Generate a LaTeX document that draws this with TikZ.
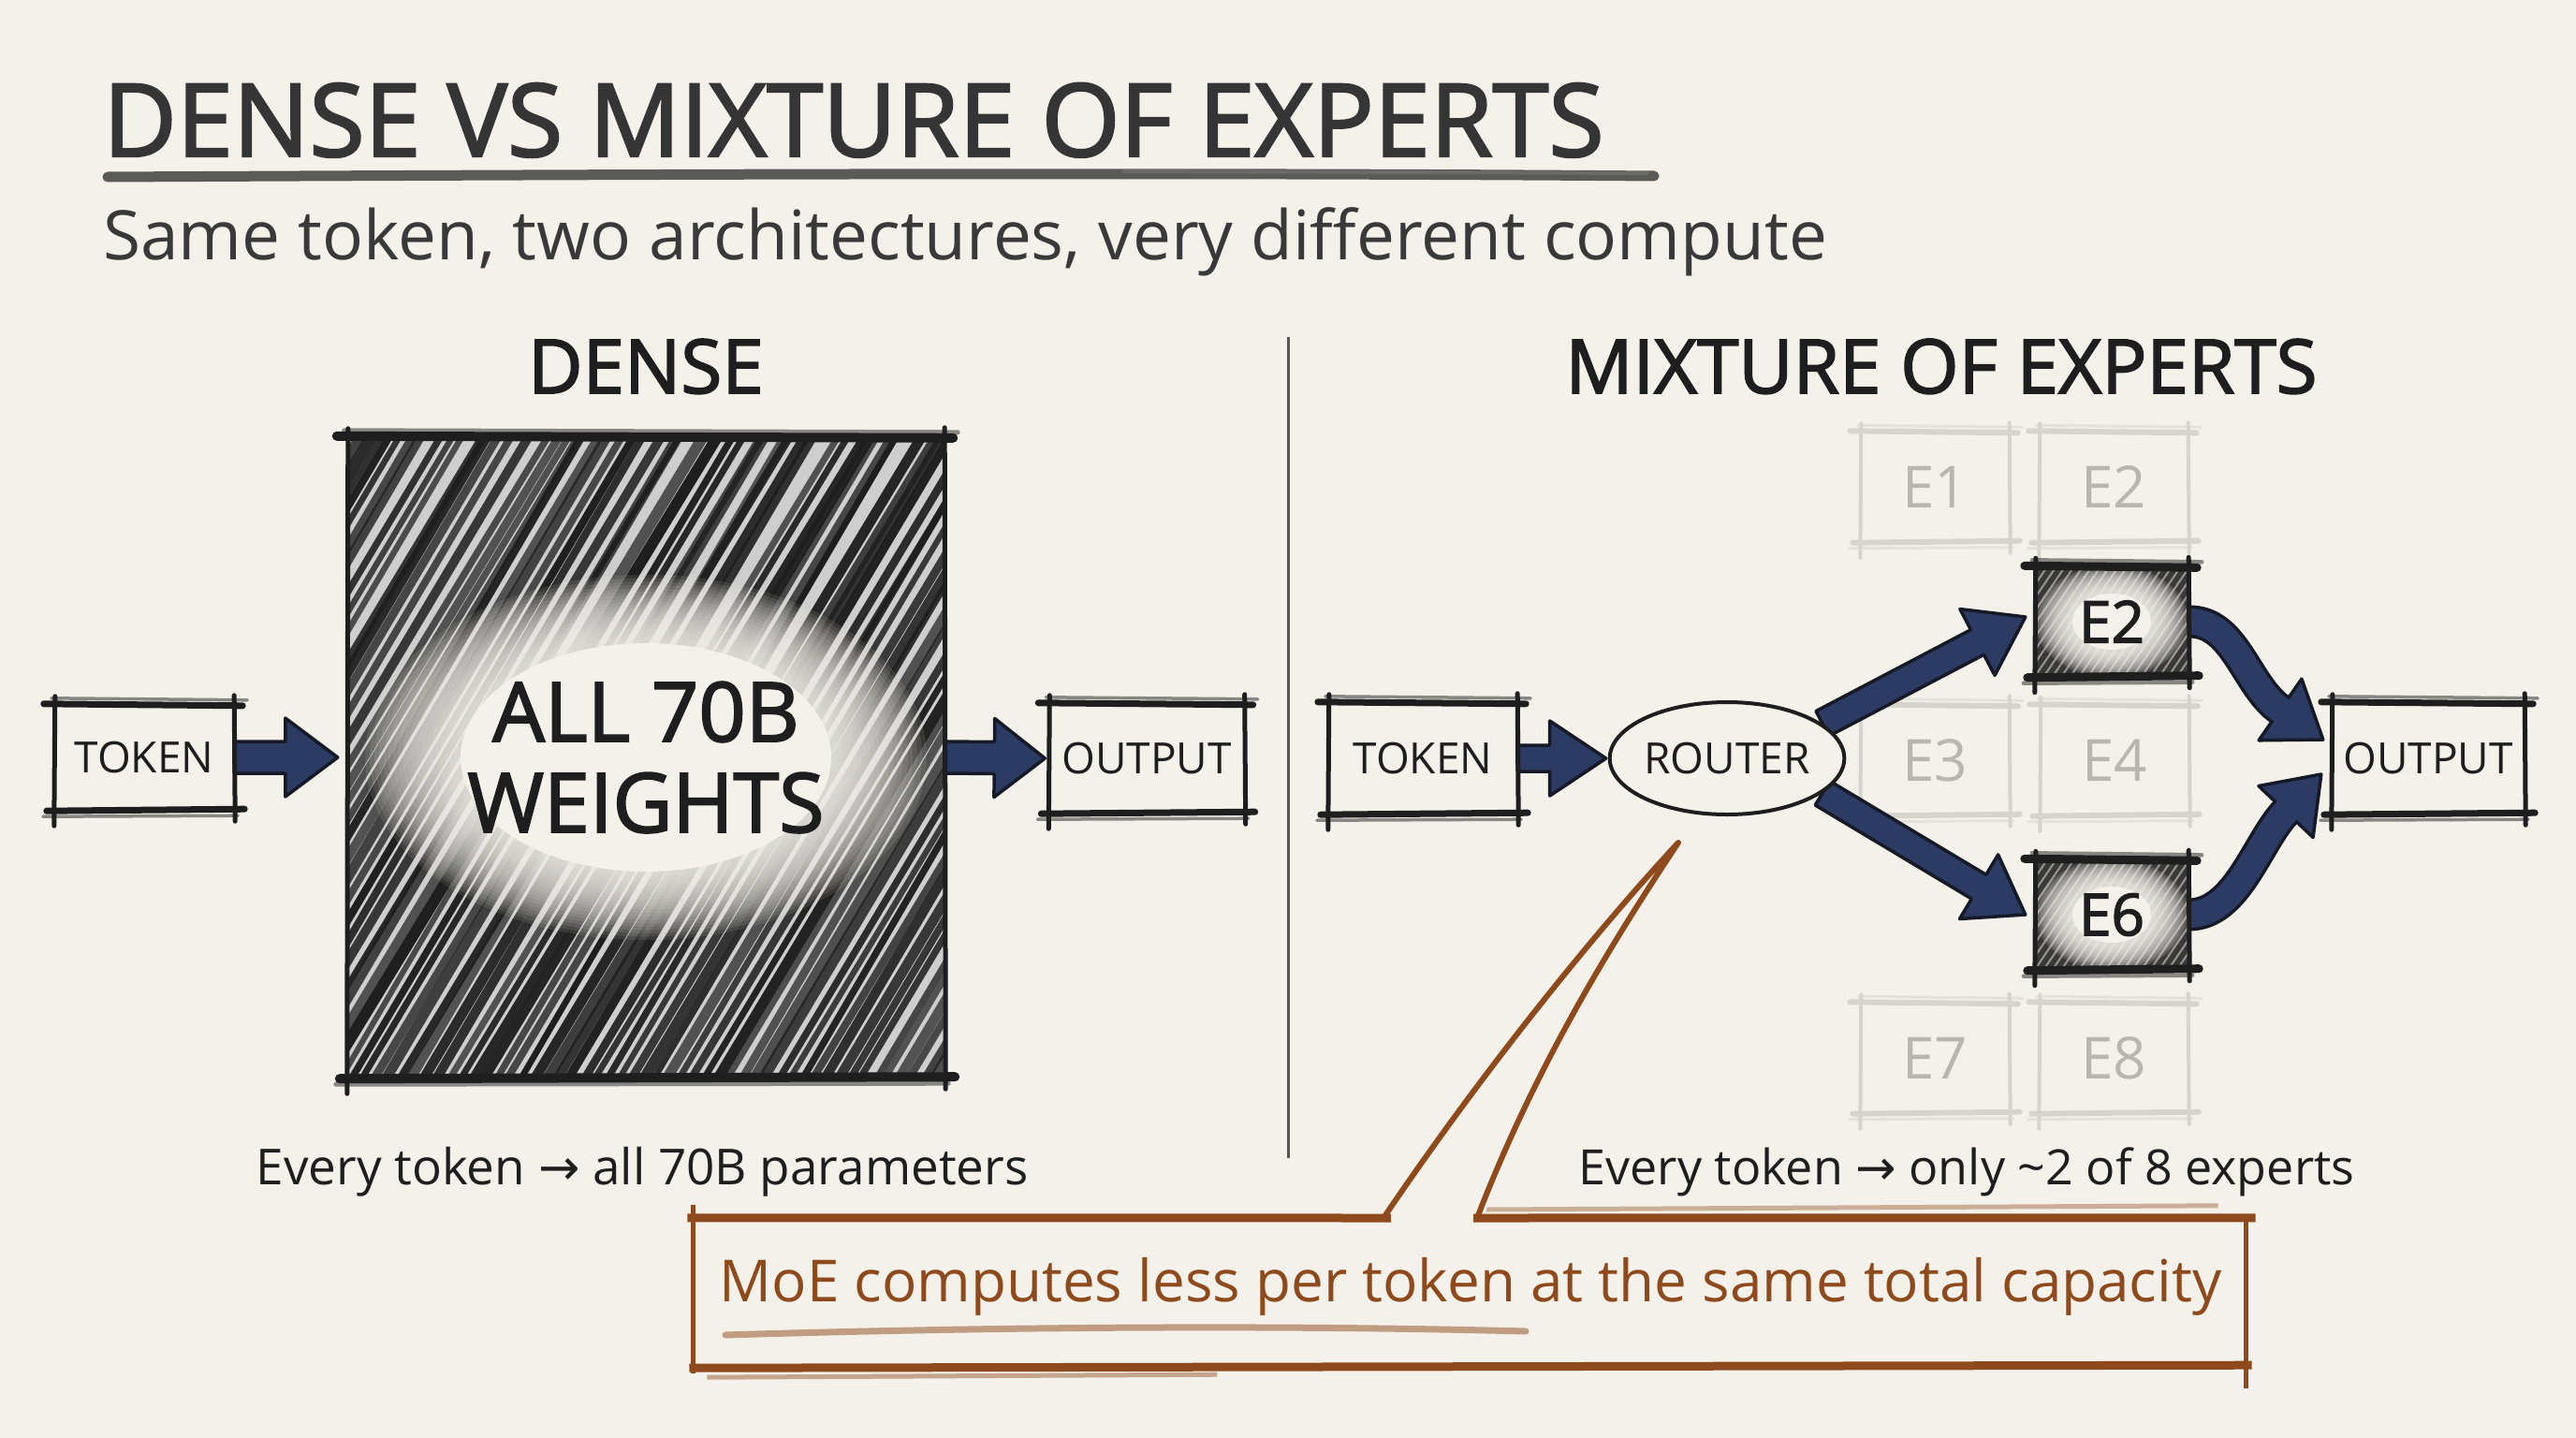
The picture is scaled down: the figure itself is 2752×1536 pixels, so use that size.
\documentclass[tikz,border=0pt]{standalone}
\usepackage{fontspec}
\setmainfont{Open Sans}
\newfontfamily\semib{Open Sans}[FakeBold=2.2]
\newfontfamily\symf{DejaVu Sans}
\usetikzlibrary{calc,shapes.geometric}
\pgfdeclarelayer{front}
\pgfsetlayers{main,front}
\definecolor{bg}{HTML}{F3F1EA}
\definecolor{ink}{HTML}{1E1E1E}
\definecolor{navy}{HTML}{2B3B64}
\definecolor{navyline}{HTML}{161A26}
\definecolor{ghost}{HTML}{D6D4CD}
\definecolor{ghosttxt}{HTML}{B8B6B0}
\definecolor{cbrown}{HTML}{8E4A1C}

% straight block arrow: start, tip, half shaft, half head, head length
\newcommand\blockarrow[5]{%
  \coordinate (bah) at ($(#2)!#5!(#1)$);
  \filldraw[fill=navy, draw=navyline, line width=3.5pt, line join=round]
    ($(#1)!#3!90:(#2)$) -- ($(bah)!#3!90:(#2)$) -- ($(bah)!#4!90:(#2)$) -- (#2)
    -- ($(bah)!#4!-90:(#2)$) -- ($(bah)!#3!-90:(#2)$) -- ($(#1)!#3!-90:(#2)$) -- cycle;}
% curved arrow: start, control 1, head base, tip
\newcommand\curvearrow[4]{%
  \draw[navyline, line width=35pt] (#1) .. controls (#2) and ($(#3)!-45pt!(#4)$) .. (#3);
  \filldraw[fill=navy, draw=navyline, line width=3.5pt, line join=round]
    ($(#3)!40pt!90:(#4)$) -- (#4) -- ($(#3)!40pt!-90:(#4)$) -- cycle;
  \draw[navy, line width=28pt] (#1) .. controls (#2) and ($(#3)!-45pt!(#4)$) .. (#3) -- ($(#3)!3pt!(#4)$);}
% sketchy frame: node, colour, horizontal width, vertical width
\newcommand\skbox[4]{%
  \draw[#2, line width=#3, line cap=round] ([xshift=-11pt,yshift=1pt]#1.north west) -- ([xshift=9pt,yshift=-1pt]#1.north east);
  \draw[#2, line width=#3*0.5, opacity=0.5, line cap=round] ([xshift=-3pt,yshift=7pt]#1.north west) -- ([xshift=14pt,yshift=5pt]#1.north east);
  \draw[#2, line width=#3, line cap=round] ([xshift=-8pt,yshift=-1pt]#1.south west) -- ([xshift=11pt,yshift=1pt]#1.south east);
  \draw[#2, line width=#3*0.5, opacity=0.5, line cap=round] ([xshift=-12pt,yshift=-7pt]#1.south west) -- ([xshift=4pt,yshift=-6pt]#1.south east);
  \draw[#2, line width=#4, line cap=round] ([xshift=1pt,yshift=9pt]#1.north west) -- ([yshift=-17pt]#1.south west);
  \draw[#2, line width=#4, line cap=round] ([yshift=10pt]#1.north east) -- ([xshift=1pt,yshift=-12pt]#1.south east);}
% dark hatched expert box
\newcommand\darkhatch[1]{%
  \begin{scope}
    \clip (#1.north west) rectangle (#1.south east);
    \fill[ink!88] (#1.north west) rectangle (#1.south east);
    \foreach \k in {-10,...,18} \draw[bg, line width=2pt, opacity=0.5] ($(#1.south west)+(\k*9.5,0)$) -- ++(85,-125);
    \foreach \r in {0,...,13}{\pgfmathsetmacro\rx{82-2.8*\r}\pgfmathsetmacro\ry{60-2*\r}%
      \fill[bg, opacity=0.15] (#1.center) ellipse [x radius=\rx pt, y radius=\ry pt];}
    \fill[bg] (#1.center) ellipse [x radius=42pt, y radius=30pt];
  \end{scope}}

\begin{document}
\begin{tikzpicture}[x=1pt,y=-1pt,
  lbl/.style={inner sep=0pt, font=\fontsize{46}{55}\selectfont, text=ink},
  glbl/.style={inner sep=0pt, font=\fontsize{62}{74}\selectfont, text=ghosttxt, minimum width=159, minimum height=117},
  albl/.style={inner sep=0pt, font=\fontsize{62}{74}\semib, text=ink, minimum width=164, minimum height=117}]
\useasboundingbox (0,0) rectangle (2752,1536);
\fill[bg] (0,0) rectangle (2752,1536);

% ---------- texts and nodes ----------
\begin{pgfonlayer}{front}
\node[anchor=base west, inner sep=0pt, text=ink!90] (title) at (110,167) {\fontsize{108}{128}\semib DENSE VS MIXTURE OF EXPERTS};
\node[anchor=base west, inner sep=0pt, text=ink!88] (sub) at (110,277) {\fontsize{73}{88}\selectfont Same token, two architectures, very different compute};
\node[anchor=base, inner sep=0pt, text=ink] (hdense) at (690,420) {\fontsize{80}{96}\semib DENSE};
\node[anchor=base, inner sep=0pt, text=ink] (hmoe) at (2074,420) {\fontsize{80}{96}\semib MIXTURE OF EXPERTS};

\node[lbl, minimum width=192, minimum height=112] (tokL) at (154,809) {TOKEN};
\node[inner sep=0pt, minimum width=638, minimum height=684, align=center, text=ink,
      font=\fontsize{88}{97}\semib] (dense) at (690,809) {ALL 70B\\WEIGHTS};
\node[lbl, minimum width=209, minimum height=116] (outL) at (1225,810) {OUTPUT};

\node[lbl, minimum width=202, minimum height=118] (tokR) at (1520,810) {TOKEN};
\node[lbl, ellipse, draw=ink, line width=4pt, fill=bg, minimum width=230, minimum height=120] (router) at (1845,810) {ROUTER};
\node[glbl] (e1) at (2067,520) {E1};
\node[glbl] (e2g) at (2258,520) {E2};
\node[glbl] (e3) at (2067,812) {E3};
\node[glbl] (e4) at (2259,812) {E4};
\node[glbl] (e7) at (2067,1130) {E7};
\node[glbl] (e8) at (2258,1130) {E8};
\node[albl] (e2) at (2256,664) {E2};
\node[albl] (e6) at (2256,977) {E6};
\node[lbl, minimum width=206, minimum height=118] (outR) at (2594,810) {OUTPUT};

\node[anchor=base, inner sep=0pt, text=ink] (capL) at (686,1265) {\fontsize{53}{64}\selectfont Every token {\symf →} all 70B parameters};
\node[anchor=base, inner sep=0pt, text=ink] (capR) at (2101,1265) {\fontsize{52}{63}\selectfont Every token {\symf →} only \textasciitilde2 of 8 experts};
\node[inner sep=0pt, minimum width=1659, minimum height=160] (callout) at (1570,1381) {};
\node[anchor=base, inner sep=0pt, text=cbrown] (ctext) at (1571,1390) {\fontsize{62}{75}\selectfont MoE computes less per token at the same total capacity};
\end{pgfonlayer}

% ---------- title underline and divider ----------
\draw[ink!85, line width=11pt, line cap=round, opacity=0.85] (title.base west) ++(5,22) .. controls (700,186) and (1300,184) .. (1767,188);
\draw[ink!60, line width=4pt, line cap=round, opacity=0.5] (1200,183) -- (1760,185);
\draw[ink!75, line width=3pt] (1376,360) -- (1376,1237);

% ---------- dense box hatching ----------
\begin{scope}
  \clip (dense.north west) rectangle (dense.south east);
  \fill[ink!22] (dense.north west) rectangle (dense.south east);
  \pgfmathsetseed{11}
  \foreach \k in {0,...,84}{%
    \pgfmathsetmacro\xs{-80+\k*13+5*rnd}
    \pgfmathsetmacro\lw{6+6*rnd}
    \pgfmathsetmacro\op{0.7+0.3*rnd}
    \pgfmathsetmacro\dx{-10+20*rnd}
    \draw[ink, line width=\lw pt, opacity=\op, line cap=round] (\xs,1170) -- ++(430+\dx,-720);
  }
  \foreach \r in {0,...,19}{%
    \pgfmathsetmacro\rx{300-5*\r}
    \pgfmathsetmacro\ry{195-3.6*\r}
    \fill[bg, opacity=0.1] (dense.center) ellipse [x radius=\rx pt, y radius=\ry pt];
  }
  \fill[bg] (dense.center) ellipse [x radius=198pt, y radius=122pt];
\end{scope}

% ---------- expert boxes ----------
\foreach \n in {e1,e2g,e3,e4,e7,e8} {\skbox{\n}{ghost}{6}{4}}
\darkhatch{e2}
\darkhatch{e6}

% ---------- connectors ----------
\coordinate (tdense) at ([xshift=-10pt]dense.west);
\coordinate (toutL) at ([xshift=-4pt]outL.west);
\coordinate (trouter) at ([xshift=-2pt]router.west);
\coordinate (te2) at ([xshift=-10pt,yshift=5pt]e2.west);
\coordinate (te6) at ([xshift=-10pt]e6.west);
\blockarrow{tokL.east}{tdense}{17pt}{42pt}{56pt}
\blockarrow{dense.east}{toutL}{17pt}{42pt}{54pt}
\blockarrow{tokR.east}{trouter}{14pt}{40pt}{60pt}
\blockarrow{router.20}{te2}{15pt}{40pt}{58pt}
\blockarrow{router.-20}{te6}{15pt}{40pt}{58pt}

\coordinate (c2) at (2388,663);
\coordinate (b2) at (2436,758);
\coordinate (h2) at ([xshift=-9pt,yshift=20pt]outR.west);
\coordinate (c6) at (2390,977);
\coordinate (b6) at (2442,867);
\coordinate (h6) at ([xshift=-11pt,yshift=-17pt]outR.west);
\curvearrow{e2.east}{c2}{b2}{h2}
\curvearrow{e6.east}{c6}{b6}{h6}

% ---------- frames ----------
\begin{pgfonlayer}{front}
\skbox{tokL}{ink}{7}{5}
\skbox{outL}{ink}{7}{5}
\skbox{tokR}{ink}{7}{5}
\skbox{outR}{ink}{7}{5}
\skbox{e2}{ink}{9}{5}
\skbox{e6}{ink}{9}{5}
\skbox{dense}{ink}{10}{5}

% callout
\coordinate (ctip) at (1793,900);
\coordinate (tl) at (1478,1301);
\coordinate (tr) at (1578,1301);
\draw[cbrown, line width=6pt, line join=round] (tl) .. controls (1580,1150) and (1700,1000) .. (ctip)
   .. controls (1720,1010) and (1640,1140) .. (tr);
\draw[cbrown, line width=9pt] ([xshift=-6pt]callout.north west) -- ([xshift=8pt]tl);
\draw[cbrown, line width=9pt] ([xshift=-4pt]tr) -- ([xshift=10pt]callout.north east);
\draw[cbrown, line width=5pt, opacity=0.4] ([xshift=10pt,yshift=9pt]tr) -- ([xshift=-30pt,yshift=13pt]callout.north east);
\draw[cbrown, line width=9pt] ([xshift=-4pt]callout.south west) -- ([xshift=6pt,yshift=3pt]callout.south east);
\draw[cbrown, line width=5pt, opacity=0.45] ([xshift=15pt,yshift=-10pt]callout.south west) -- ([xshift=560pt,yshift=-7pt]callout.south west);
\draw[cbrown, line width=5pt] ([yshift=14pt]callout.north west) -- ([yshift=-6pt]callout.south west);
\draw[cbrown, line width=5pt] ([yshift=-2pt]callout.north east) -- ([yshift=-22pt]callout.south east);
\draw[cbrown, line width=7pt, opacity=0.5, line cap=round] (775,1426) .. controls (1100,1416) and (1400,1416) .. (1630,1422);
\end{pgfonlayer}
\end{tikzpicture}
\end{document}
